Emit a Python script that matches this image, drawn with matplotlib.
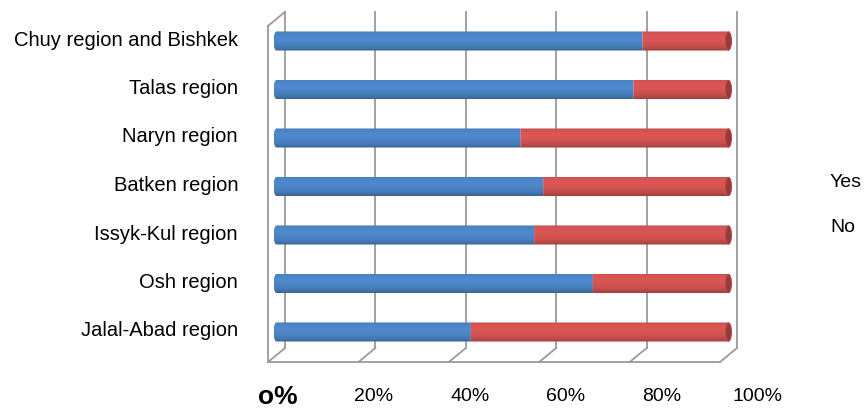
import numpy as np
import matplotlib
matplotlib.use("Agg")
import matplotlib.pyplot as plt
from matplotlib.patches import Ellipse, PathPatch, Patch
from matplotlib.path import Path
from matplotlib.colors import to_rgb
from matplotlib.transforms import ScaledTranslation

# ----
# data
# ----
regions = ["Chuy region and Bishkek", "Talas region", "Naryn region", "Batken region",
           "Issyk-Kul region", "Osh region", "Jalal-Abad region"]
yes = [81, 79, 54, 59, 57, 70, 43]
no = [19, 21, 46, 41, 43, 30, 57]
x_ticks = [0, 20, 40, 60, 80, 100]
x_labels = ["o%", "20%", "40%", "60%", "80%", "100%"]
series = ["Yes", "No"]
colors = ["#4A82C2", "#CF5250"]

plt.rcParams["font.family"] = ["Liberation Sans", "DejaVu Sans"]

W, H = 865, 410
fig = plt.figure(figsize=(W / 100, H / 100), dpi=100)

# axes box in pixels (mid-depth plane of the fake 3d plot), a little margin on x
row_px = 48.5
px_per = 4.52
xmin, xmax = -4, 104
left_px = 276.5 + xmin * px_per
right_px = 276.5 + xmax * px_per
bot_px = 333 + 0.8 * row_px
top_px = 42 - 0.8 * row_px
ax = fig.add_axes([left_px / W, 1 - bot_px / H, (right_px - left_px) / W, (bot_px - top_px) / H])
for s in ax.spines.values():
    s.set_visible(False)
ax.set_xticks([])

ypos = np.arange(len(regions))[::-1]

# ------------------------------------
# 3d frame: back wall grid, floor, wall
# ------------------------------------
dx, dy = 3.76, 0.29
fx, bx = -dx / 2, dx / 2
floor_front = -0.62
floor_back = floor_front + dy
top_back = 6.6
top_front = top_back - dy
gc = "#9a9a9a"
lw = 1.3
for t in x_ticks:
    ax.plot([t + bx, t + bx], [floor_back, top_back], color=gc, lw=lw, zorder=1)
    ax.plot([t + bx, t + fx], [floor_back, floor_front], color=gc, lw=lw, zorder=1)
ax.plot([fx, 100 + fx], [floor_front, floor_front], color=gc, lw=lw, zorder=1)
ax.plot([fx, fx], [floor_front, top_front], color=gc, lw=lw, zorder=1)
ax.plot([fx, bx], [top_front, top_back], color=gc, lw=lw, zorder=1)


# -------------
# cylinder bars
# -------------
def shade_img(color, n=80):
    t = np.linspace(-1, 1, n)
    s = np.sqrt(np.clip(1 - t ** 2, 0, 1))
    inten = np.clip(0.35 * t + 0.95 * s, 0, 1)
    k = 0.78 + 0.27 * inten
    base = np.array(to_rgb(color))
    rgb = np.clip(base[None, :] * k[:, None], 0, 1)
    return np.repeat(rgb[:, None, :], 2, axis=1)


def outline(left, right, y, r, rx, round_left, round_right):
    th = np.linspace(-np.pi / 2, np.pi / 2, 40)
    pts = []
    if round_right:
        pts += list(zip(right + rx * np.cos(th), y + r * np.sin(th)))
    else:
        pts += [(right, y - r), (right, y + r)]
    if round_left:
        pts += list(zip(left - rx * np.cos(th[::-1]), y + r * np.sin(th[::-1])))
    else:
        pts += [(left, y + r), (left, y - r)]
    pts.append(pts[0])
    return Path(pts, closed=True)


r = 0.196
rx = 0.66
for i, y in enumerate(ypos):
    segs = [(0, yes[i], colors[0], True, False), (yes[i], yes[i] + no[i], colors[1], False, True)]
    for left, right, col, rl, rr in segs:
        p = PathPatch(outline(left, right, y, r, rx, rl, rr), facecolor="none", edgecolor="none")
        ax.add_patch(p)
        im = ax.imshow(shade_img(col), extent=(left - rx, right + rx, y - r, y + r),
                       origin="lower", aspect="auto", interpolation="bilinear", zorder=3)
        im.set_clip_path(p)
    end = yes[i] + no[i]
    red = np.array(to_rgb(colors[1]))
    ax.add_patch(Ellipse((end, y), 2 * rx, 2 * r * 0.96, facecolor=red * 0.72,
                         edgecolor=red * 0.9, lw=0.7, zorder=4))

ax.set_xlim(xmin, xmax)
ax.set_ylim(-0.8, 6.8)

# category labels, right edge at about x=238px
ax.set_yticks(ypos, regions)
ax.tick_params(axis="y", length=0, pad=(left_px - 238) * 0.72, labelsize=14.5)
for lbl in ax.get_yticklabels():
    lbl.set_transform(lbl.get_transform() + ScaledTranslation(0, 0.04, fig.dpi_scale_trans))

# value labels (Excel drew them drifting right of the floor ticks)
for t, lab in zip(x_ticks, x_labels):
    bold = lab == "o%"
    ax.text(t * 1.062 + 0.3, -0.068, lab, transform=ax.get_xaxis_transform(),
            ha="center", va="center", fontsize=19 if bold else 14,
            fontweight="bold" if bold else "normal", clip_on=False)

# legend without colour keys
handles = [Patch(facecolor="none", edgecolor="none", label=s) for s in series]
fig.legend(handles=handles, loc="upper left", bbox_to_anchor=(830 / W, 1 - 173 / H),
           frameon=False, handlelength=0, handletextpad=0, borderpad=0,
           borderaxespad=0, labelspacing=1.45, fontsize=14)

fig.savefig("out.png", dpi=100)
